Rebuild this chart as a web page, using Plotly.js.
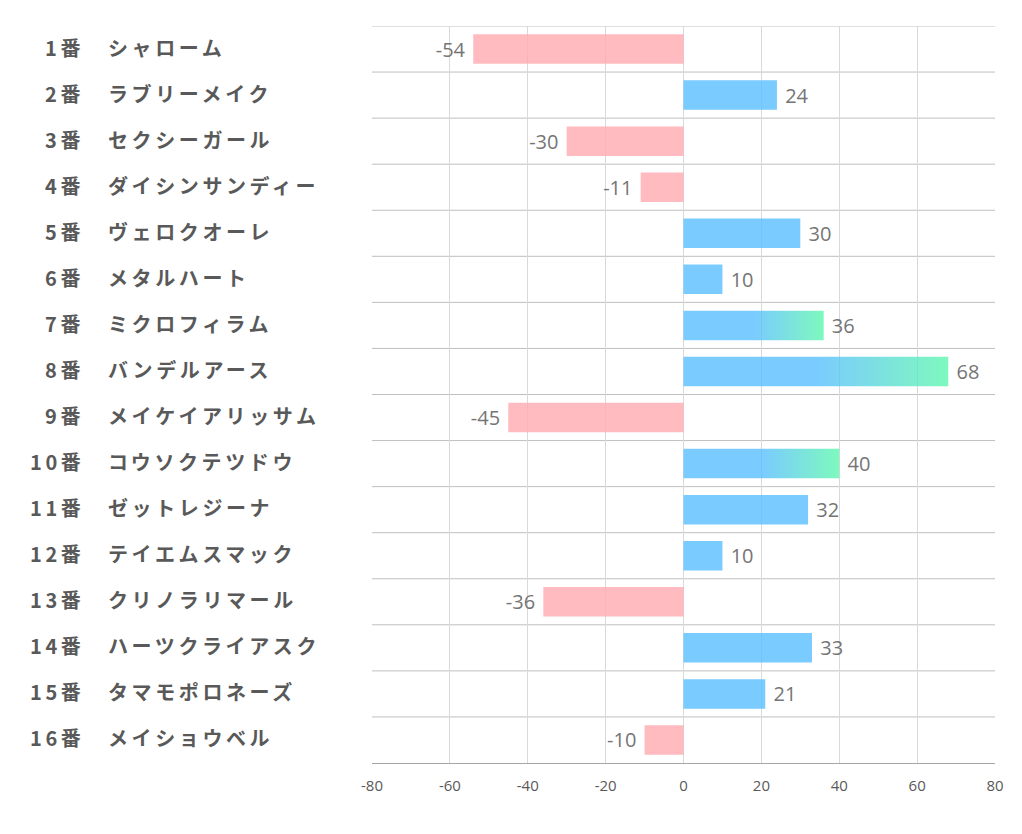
<!DOCTYPE html>
<html>
<head>
<meta charset="utf-8">
<script src="https://cdn.plot.ly/plotly-3.0.1.min.js"></script>
<style>
  html, body { margin: 0; padding: 0; background: #fff; }
  #chart { width: 1022px; height: 834px; }
  .annotation-text { letter-spacing: 3.6px; }
</style>
</head>
<body>
<div id="chart"></div>
<script>
const numbers = ["1番","2番","3番","4番","5番","6番","7番","8番","9番","10番","11番","12番","13番","14番","15番","16番"];
const names = ["シャローム","ラブリーメイク","セクシーガール","ダイシンサンディー","ヴェロクオーレ","メタルハート","ミクロフィラム","バンデルアース","メイケイアリッサム","コウソクテツドウ","ゼットレジーナ","テイエムスマック","クリノラリマール","ハーツクライアスク","タマモポロネーズ","メイショウベル"];
const values = [-54, 24, -30, -11, 30, 10, 36, 68, -45, 40, 32, 10, -36, 33, 21, -10];
const highlight = [false,false,false,false,false,false,true,true,false,true,false,false,false,false,false,false];
const xTicks = [-80,-60,-40,-20,0,20,40,60,80];

const PINK = 'rgba(255,170,175,0.8)';
const BLUE = 'rgba(89,190,255,0.8)';
const GREEN = 'rgba(93,247,174,0.8)';
const BARW = 0.64;
const NB = '\u00a0';

const idx = values.map((v,i)=>i);
const barColors = values.map((v,i)=> highlight[i] ? 'rgba(0,0,0,0)' : (v < 0 ? PINK : BLUE));

const traces = [{
  type: 'bar', orientation: 'h',
  x: values, y: idx,
  width: BARW,
  marker: { color: barColors, line: { width: 0 } },
  text: values.map(v => v < 0 ? String(v) + NB : NB + String(v)),
  textposition: 'outside',
  cliponaxis: false,
  textfont: { family: 'Open Sans, Noto Sans, sans-serif', size: 20, color: '#757575' },
  hoverinfo: 'skip'
}];

values.forEach((v,i)=>{
  if (!highlight[i]) return;
  const h = BARW/2;
  traces.push({
    type: 'scatter', mode: 'lines',
    x: [0, v, v, 0, 0],
    y: [i-h, i-h, i+h, i+h, i-h],
    fill: 'toself',
    line: { width: 0, color: 'rgba(0,0,0,0)' },
    fillgradient: { type: 'horizontal', colorscale: [[0, BLUE], [0.5, BLUE], [1, GREEN]] },
    hoverinfo: 'skip', showlegend: false
  });
});

const n = values.length;
const shapes = [];
for (let k = 0; k < n; k++) {
  shapes.push({ type: 'line', xref: 'paper', yref: 'y', x0: 0, x1: 1, y0: k-0.5, y1: k-0.5,
    line: { color: '#bfbfbf', width: 1 }, layer: 'below' });
}

const annotations = [];
const labelFont = { family: 'Noto Sans CJK JP, sans-serif', size: 20, color: '#595959', weight: 'bold' };
numbers.forEach((t,i)=>{
  annotations.push({ xref: 'paper', yref: 'y', x: -0.4585, y: i, yshift: 2, text: t, showarrow: false,
    xanchor: 'right', yanchor: 'middle', font: labelFont });
  annotations.push({ xref: 'paper', yref: 'y', x: -0.4265, y: i, yshift: 2, text: names[i], showarrow: false,
    xanchor: 'left', yanchor: 'middle', font: labelFont });
});

const layout = {
  width: 1022, height: 834,
  margin: { l: 372, r: 27, t: 26, b: 71 },
  paper_bgcolor: '#ffffff', plot_bgcolor: '#ffffff',
  showlegend: false,
  xaxis: {
    range: [-80, 80], tickvals: xTicks, ticktext: xTicks.map(String),
    showgrid: true, gridcolor: '#d9d9d9', gridwidth: 1,
    zeroline: false, showline: true, linecolor: '#a6a6a6', linewidth: 1,
    ticks: '', ticklabelstandoff: 9,
    tickfont: { family: 'Open Sans, Noto Sans, sans-serif', size: 15, color: '#595959' },
    fixedrange: true
  },
  yaxis: {
    range: [n-0.5, -0.5], showgrid: false, zeroline: false, showticklabels: false,
    showline: false, ticks: '', fixedrange: true
  },
  shapes: shapes,
  annotations: annotations,
  hovermode: false
};

Plotly.newPlot('chart', traces, layout, { displayModeBar: false, staticPlot: true });
</script>
</body>
</html>
